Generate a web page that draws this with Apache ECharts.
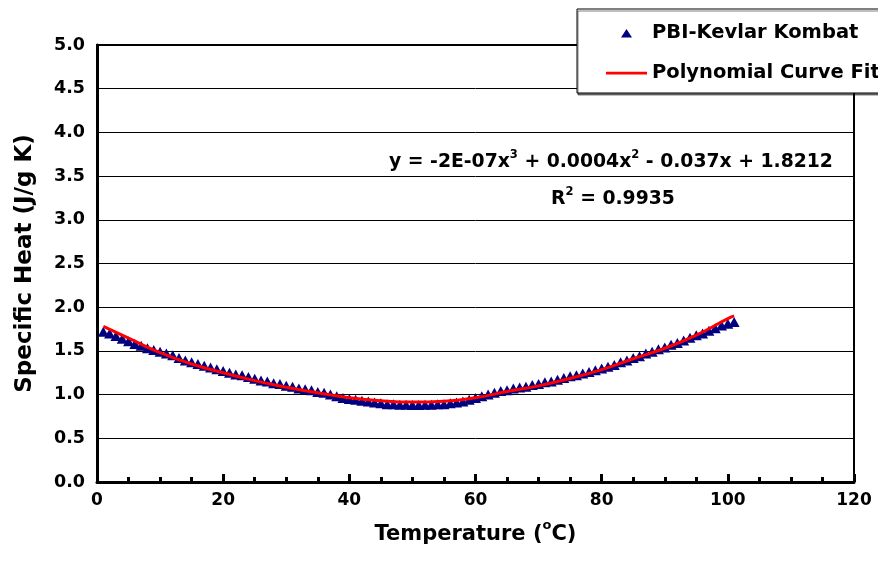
<!DOCTYPE html>
<html><head><meta charset="utf-8">
<script src="https://cdn.jsdelivr.net/npm/echarts@6/dist/echarts.min.js"></script>
<style>html,body{margin:0;padding:0;background:#fff}#c{width:878px;height:573px}</style>
</head><body><div id="c"></div>
<script>
const temps = [1,2,3,4,5,6,7,8,9,10,11,12,13,14,15,16,17,18,19,20,21,22,23,24,25,26,27,28,29,30,31,32,33,34,35,36,37,38,39,40,41,42,43,44,45,46,47,48,49,50,51,52,53,54,55,56,57,58,59,60,61,62,63,64,65,66,67,68,69,70,71,72,73,74,75,76,77,78,79,80,81,82,83,84,85,86,87,88,89,90,91,92,93,94,95,96,97,98,99,100,101];
const specificHeat = [1.72,1.70,1.67,1.64,1.61,1.58,1.56,1.53,1.51,1.49,
  1.47,1.45,1.42,1.39,1.37,1.35,1.33,1.31,1.29,1.27,
  1.25,1.23,1.22,1.20,1.18,1.16,1.15,1.13,1.12,1.10,
  1.09,1.07,1.06,1.05,1.03,1.02,1.00,0.98,0.96,0.95,
  0.94,0.93,0.92,0.91,0.90,0.89,0.89,0.885,0.885,0.88,
  0.88,0.885,0.885,0.89,0.89,0.90,0.91,0.92,0.94,0.96,
  0.98,1.00,1.02,1.04,1.05,1.07,1.08,1.09,1.11,1.12,
  1.14,1.15,1.17,1.19,1.21,1.22,1.24,1.26,1.28,1.30,
  1.32,1.34,1.37,1.39,1.42,1.44,1.47,1.49,1.52,1.54,
  1.57,1.59,1.62,1.65,1.68,1.70,1.73,1.76,1.79,1.81,1.83];
const fitX = [1,5,10,15,20,25,30,35,40,45,50,55,60,65,70,75,80,85,90,95,100,101];
const fitY = [1.78,1.645,1.48,1.35,1.25,1.16,1.085,1.02,0.965,0.93,0.915,0.925,0.965,1.035,1.10,1.185,1.285,1.41,1.53,1.68,1.87,1.90];
const xTicks = [0,20,40,60,80,100,120];
const yTicks = ['0.0','0.5','1.0','1.5','2.0','2.5','3.0','3.5','4.0','4.5','5.0'];

const FONT = '"DejaVu Sans", Verdana, sans-serif';
const chart = echarts.init(document.getElementById('c'), null, {renderer:'canvas'});
const scatterData = temps.map((t,i)=>[t, specificHeat[i]]);
const fitData = fitX.map((t,i)=>[t, fitY[i]]);
function supRich(size, supSize, lh){
  return {
    a:{fontFamily:FONT,fontWeight:'bold',fontSize:size,color:'#000',lineHeight:lh,verticalAlign:'bottom'},
    s:{fontFamily:FONT,fontWeight:'bold',fontSize:supSize,color:'#000',lineHeight:lh,verticalAlign:'top'}
  };
}
chart.setOption({
  animation:false,
  backgroundColor:'#fff',
  grid:{left:97,right:24,top:45,bottom:91,show:true,borderColor:'#000',borderWidth:2,backgroundColor:'transparent'},
  xAxis:{type:'value',min:0,max:120,interval:20,
    axisLine:{show:true,onZero:false,lineStyle:{color:'#000',width:3}},
    axisTick:{show:true,inside:true,length:8,lineStyle:{color:'#000',width:3}},
    minorTick:{show:true,splitNumber:4,length:5,lineStyle:{color:'#000',width:3}},
    splitLine:{show:false},
    axisLabel:{margin:10,fontFamily:FONT,fontWeight:'bold',fontSize:17,color:'#000',
      formatter:(v)=>String(xTicks[xTicks.indexOf(v)])},
    name:'{a|Temperature (}{s|o}{a|C)}',nameLocation:'middle',nameGap:37,
    nameTextStyle:{rich:supRich(21,13,26)}
  },
  yAxis:{type:'value',min:0,max:5,interval:0.5,
    axisLine:{show:true,onZero:false,lineStyle:{color:'#000',width:3}},
    axisTick:{show:false},
    splitLine:{show:true,lineStyle:{color:'#000',width:1}},
    axisLabel:{margin:12,fontFamily:FONT,fontWeight:'bold',fontSize:17.5,color:'#000',
      formatter:(v)=>yTicks[Math.round(v*2)]},
    name:'Specific Heat (J/g K)',nameLocation:'middle',nameGap:60,
    nameTextStyle:{fontFamily:FONT,fontWeight:'bold',fontSize:23,color:'#000'}
  },
  legend:{orient:'vertical',left:577,top:9,padding:[14,60,10,29],itemGap:20,itemWidth:41,itemHeight:9,
    align:'left',backgroundColor:'#fff',borderColor:'#000',borderWidth:1,
    shadowColor:'rgba(0,0,0,0.5)',shadowOffsetX:1,shadowOffsetY:2,shadowBlur:0,
    textStyle:{fontFamily:FONT,fontWeight:'bold',fontSize:19.5,color:'#000',lineHeight:18},
    data:[
      {name:'PBI-Kevlar Kombat',icon:'path://M0,9 L0.01,9 Z M41,9 L40.99,9 Z M41,0 L40.99,0 Z M15,9 L20.5,0.5 L26,9 Z'},
      {name:'Polynomial Curve Fit',icon:'path://M0,0 L0.01,0 Z M0,3.3 L41,3.3 L41,5.9 L0,5.9 Z M0,9 L0.01,9 Z'}
    ]},
  graphic:[
    {type:'text',x:611,y:149,style:{text:'{a|y = -2E-07x}{s|3}{a| + 0.0004x}{s|2}{a| - 0.037x + 1.8212}',rich:supRich(18.8,11.5,23),align:'center'}},
    {type:'text',x:613,y:186,style:{text:'{a|R}{s|2}{a| = 0.9935}',rich:supRich(18.8,11.5,23),align:'center'}}
  ],
  series:[
    {name:'PBI-Kevlar Kombat',type:'scatter',data:scatterData,symbol:'triangle',symbolSize:[11,10],
      itemStyle:{color:'#000080',opacity:1},z:2},
    {name:'Polynomial Curve Fit',type:'line',data:fitData,smooth:true,symbol:'none',showSymbol:false,
      lineStyle:{color:'#ff0000',width:3},itemStyle:{color:'#ff0000'},z:3}
  ]
});
</script></body></html>
